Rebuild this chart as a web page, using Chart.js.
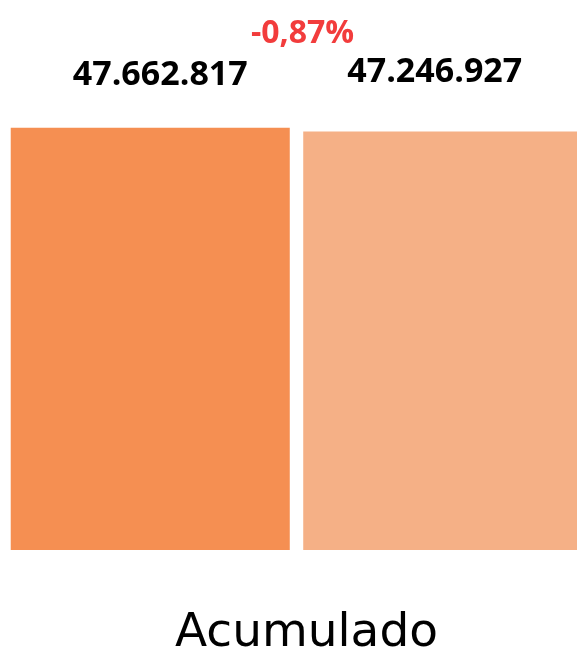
<!DOCTYPE html>
<html lang="es">
<head>
    <meta charset="UTF-8">
    <title>Acumulado</title>
    <script src="https://cdn.jsdelivr.net/npm/chart.js"></script>
    <style>
        html, body { margin: 0; padding: 0; background: #fff; overflow: hidden; }
        #wrap { width: 590px; height: 654px; position: relative; }
    </style>
</head>
<body>
    <div id="wrap">
        <canvas id="acumulado"></canvas>
    </div>

    <script>
        // datos
        const categories = ['Acumulado'];
        const previousValues = [47662817];
        const currentValues = [47246927];
        const barColors = ['#F58F52', '#F5B086'];

        const fmt = n => n.toLocaleString('de-DE');

        // etiquetas sobre las barras + variación
        const labelPlugin = {
            id: 'valueLabels',
            afterDatasetsDraw(chart) {
                const ctx = chart.ctx;
                const top = chart.chartArea.top;
                const b1 = chart.getDatasetMeta(0).data[0];
                const b2 = chart.getDatasetMeta(1).data[0];
                ctx.save();
                ctx.textAlign = 'center';
                ctx.textBaseline = 'alphabetic';
                ctx.fillStyle = '#000';
                ctx.font = 'bold 34px "Open Sans"';
                ctx.fillText(fmt(previousValues[0]), b1.x + 10, top - 15);
                ctx.fillText(fmt(currentValues[0]), b2.x - 8, top - 18);

                const pct = (currentValues[0] - previousValues[0]) / previousValues[0] * 100;
                ctx.fillStyle = pct < 0 ? '#F23C3C' : '#2E9E4F';
                ctx.font = 'bold 32px "Open Sans"';
                ctx.fillText((pct > 0 ? '+' : '') + pct.toFixed(2).replace('.', ',') + '%', (b1.x + b2.x) / 2 + 6, top - 57);
                ctx.restore();
            }
        };

        new Chart(document.getElementById('acumulado'), {
            type: 'bar',
            data: {
                labels: categories,
                datasets: [{
                    label: 'Anterior',
                    data: previousValues,
                    backgroundColor: barColors[0]
                }, {
                    label: 'Actual',
                    data: currentValues,
                    backgroundColor: barColors[1]
                }]
            },
            options: {
                responsive: true,
                maintainAspectRatio: false,
                animation: false,
                layout: { padding: { top: 100, left: 4, right: 1, bottom: 0 } },
                datasets: { bar: { barPercentage: 0.954, categoryPercentage: 1 } },
                plugins: {
                    legend: { display: false },
                    tooltip: { enabled: false }
                },
                scales: {
                    x: {
                        grid: { display: false },
                        border: { display: false },
                        afterFit: scale => { scale.height = 104; },
                        ticks: {
                            color: '#000',
                            padding: 48,
                            labelOffset: 10,
                            font: { family: '"DejaVu Sans"', size: 47 }
                        }
                    },
                    y: {
                        display: false,
                        min: 0,
                        max: 50800000
                    }
                }
            },
            plugins: [labelPlugin]
        });
    </script>
</body>
</html>
